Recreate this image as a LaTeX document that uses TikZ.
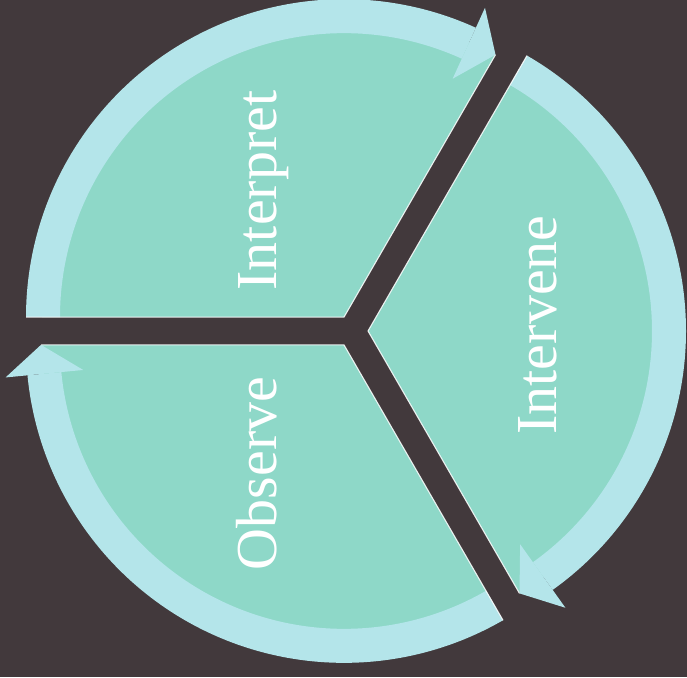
\documentclass[tikz,border=0pt]{standalone}
\usepackage{fontspec}
\setmainfont{Liberation Serif}
\definecolor{bgc}{HTML}{42393C}
\definecolor{ringc}{HTML}{B4E5EA}
\definecolor{fillc}{HTML}{8ED8C8}
\newcommand{\drawsector}[4]{%
  \begin{scope}[shift={#1}]
    \fill[fillc] (0,0) -- (#2:302) arc[start angle=#2,end angle=#3,radius=302] -- cycle;
    \fill[ringc] (#2:318) arc[start angle=#2,end angle=#4,radius=318]
      -- (#4:284) arc[start angle=#4,end angle=#2,radius=284] -- cycle;
    \fill[ringc] (#4:340) -- (#3:303) -- (#4:262) -- cycle;
    \draw[edgeline] (#2:318) -- (0,0) -- (#3:303);
  \end{scope}}
\tikzset{
  edgeline/.style={white, line width=1.1pt, opacity=0.85, line join=miter},
  lbl/.style={white, inner sep=0pt, rotate=90, anchor=base,
    font=\fontsize{58}{62}\selectfont}
}
\begin{document}
\begin{tikzpicture}[x=1pt,y=1pt]
  \fill[bgc] (0,0) rectangle (687,677);
  \useasboundingbox (0,0) rectangle (687,677);
  % Interpret: tail 180, head 60
  \drawsector{(344,359.86)}{180}{60}{65.5}
  % Intervene: tail 60, head -60
  \drawsector{(368,346)}{60}{-60}{-54.5}
  % Observe: tail 300, head 180
  \drawsector{(344,332.14)}{300}{180}{185.5}
  \node[lbl] (interpret) at (276,486.5) {Interpret};
  \node[lbl] (intervene) at (556,352) {Intervene};
  \node[lbl] (observe) at (276,203.5) {Observe};
\end{tikzpicture}
\end{document}
